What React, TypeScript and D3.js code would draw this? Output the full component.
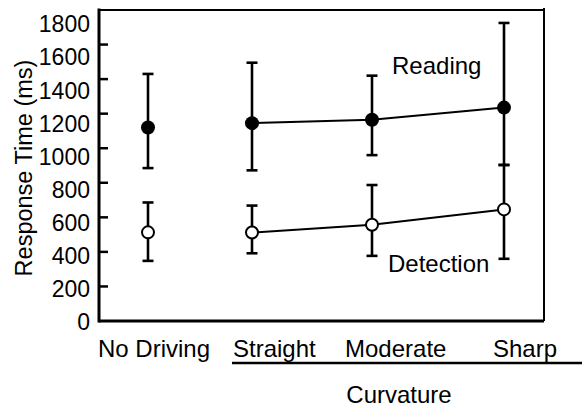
import React from "react";
import * as d3 from "d3";

const categories = ["No Driving", "Straight", "Moderate", "Sharp"];
const curvatureCategories = ["Straight", "Moderate", "Sharp"];
const readingMean = [1120, 1145, 1165, 1235];
const readingUpper = [1430, 1495, 1420, 1725];
const readingLower = [885, 872, 960, 903];
const detectionMean = [513, 512, 557, 646];
const detectionUpper = [686, 668, 787, 903];
const detectionLower = [348, 392, 377, 360];
const yTicks = [0, 200, 400, 600, 800, 1000, 1200, 1400, 1600, 1800];
const yTitle = "Response Time (ms)";
const xGroupTitle = "Curvature";
const seriesNames = ["Reading", "Detection"];

const FONT = "'Liberation Sans', Arial, Helvetica, sans-serif";

export default function App() {
  const W = 586;
  const H = 409;
  const left = 99;
  const right = 544;
  const top = 10;
  const bottom = 321;

  const y = d3.scaleLinear().domain([0, 1800]).range([bottom, top]);
  const yLabel = d3.scaleLinear().domain([0, 1800]).range([322, 24]);
  const x = d3.scaleOrdinal<string, number>().domain(categories).range([148, 252, 372, 504]);
  const xLabel = d3.scaleOrdinal<string, number>().domain(categories).range([98, 233, 345, 493]);

  const line = d3
    .line<number>()
    .x((_, i) => x(curvatureCategories[i]))
    .y((v) => y(v));

  const readingCurve = curvatureCategories.map((c) => readingMean[categories.indexOf(c)]);
  const detectionCurve = curvatureCategories.map((c) => detectionMean[categories.indexOf(c)]);

  const cap = 5.5;

  const errorBars = (lo: number[], hi: number[], key: string) =>
    categories.map((c, i) => (
      <g key={key + c} stroke="#000" strokeWidth={2.6}>
        <line x1={x(c)} x2={x(c)} y1={y(hi[i])} y2={y(lo[i])} />
        <line x1={x(c) - cap} x2={x(c) + cap} y1={y(hi[i])} y2={y(hi[i])} />
        <line x1={x(c) - cap} x2={x(c) + cap} y1={y(lo[i])} y2={y(lo[i])} />
      </g>
    ));

  return (
    <svg
      width={W}
      height={H}
      style={{ position: "absolute", left: 0, top: 0, background: "#fff" }}
      fontFamily={FONT}
    >
      <rect x={0} y={0} width={W} height={H} fill="#fff" />
      {/* frame */}
      <line x1={left} x2={right} y1={top} y2={top} stroke="#000" strokeWidth={2} />
      <line x1={right} x2={right} y1={top - 2} y2={bottom} stroke="#000" strokeWidth={2} />
      <line x1={left} x2={right} y1={bottom} y2={bottom} stroke="#000" strokeWidth={3} />
      <line x1={left} x2={left} y1={top - 1.5} y2={bottom + 1.5} stroke="#000" strokeWidth={3} />

      {/* y ticks */}
      {yTicks.map((t) => (
        <g key={t}>
          {t > 0 && t < 1800 && (
            <line x1={left} x2={left + 9} y1={y(t)} y2={y(t)} stroke="#000" strokeWidth={2.5} />
          )}
          <text x={90} y={yLabel(t)} dy="0.36em" textAnchor="end" fontSize={23} fill="#000">
            {t}
          </text>
        </g>
      ))}

      <text
        transform={`translate(24,168) rotate(-90)`}
        textAnchor="middle"
        dy="0.36em"
        fontSize={23.5}
        fill="#000"
      >
        {yTitle}
      </text>

      {/* x labels */}
      {categories.map((c) => (
        <text key={c} x={xLabel(c)} y={357} fontSize={24} fill="#000">
          {c}
        </text>
      ))}
      <line x1={232} x2={582} y1={363} y2={363} stroke="#000" strokeWidth={2.5} />
      <text x={399} y={403} textAnchor="middle" fontSize={24} fill="#000">
        {xGroupTitle}
      </text>

      {/* lines */}
      <path d={line(readingCurve) || ""} fill="none" stroke="#000" strokeWidth={2} />
      <path d={line(detectionCurve) || ""} fill="none" stroke="#000" strokeWidth={2} />

      {/* error bars */}
      {errorBars(readingLower, readingUpper, "r")}
      {errorBars(detectionLower, detectionUpper, "d")}

      {/* markers */}
      {categories.map((c, i) => (
        <circle key={"rm" + c} cx={x(c)} cy={y(readingMean[i])} r={7} fill="#000" />
      ))}
      {categories.map((c, i) => (
        <circle
          key={"dm" + c}
          cx={x(c)}
          cy={y(detectionMean[i])}
          r={6}
          fill="#fff"
          stroke="#000"
          strokeWidth={2}
        />
      ))}

      {/* series labels */}
      <text x={392} y={74} fontSize={24} fill="#000">
        {seriesNames[0]}
      </text>
      <text x={388} y={272} fontSize={24} fill="#000">
        {seriesNames[1]}
      </text>
    </svg>
  );
}
